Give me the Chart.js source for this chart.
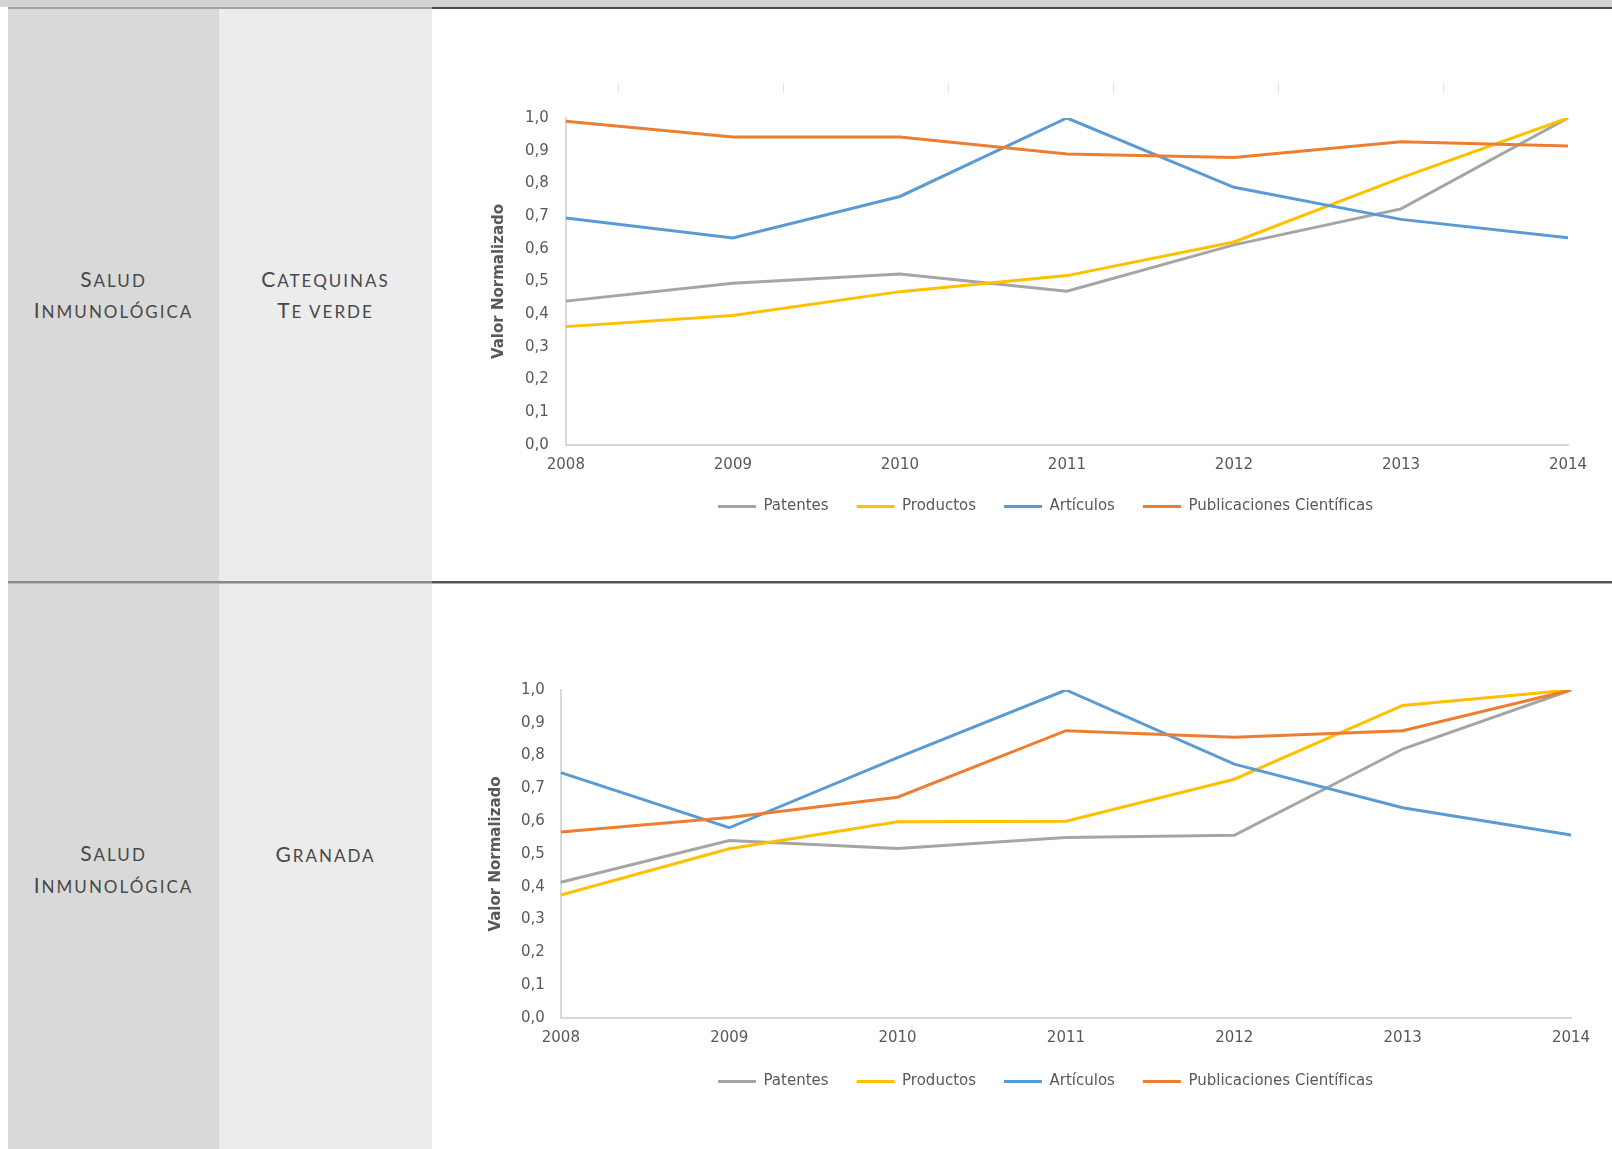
<!DOCTYPE html>
<html lang="es">
<head>
<meta charset="utf-8">
<title>Salud Inmunológica – Valor Normalizado</title>
<script src="https://cdn.jsdelivr.net/npm/chart.js@4/dist/chart.umd.min.js"></script>
<style>
  html, body { margin: 0; padding: 0; background: #fff; }
  body { width: 1612px; height: 1149px; position: relative; overflow: hidden; }
  .band { position: absolute; left: 0; top: 0; width: 1612px; height: 7px; background: #d3d3d1; }
  .rule { position: absolute; }
  .col1 { position: absolute; left: 8px; width: 211px; background: #d9d9d9; }
  .col2 { position: absolute; left: 219px; width: 213px; background: #ececec; }
  .cell {
    display: flex; flex-direction: column; justify-content: center; align-items: center;
    font-family: Lato, "Open Sans", sans-serif; font-size: 17px; letter-spacing: 2px;
    text-transform: uppercase; color: #484848; line-height: 29.5px; text-align: center;
  }
  .cap { font-size: 21px; }
  .chart { position: absolute; left: 432px; }
  .mark { position: absolute; top: 83px; width: 1px; height: 10px; background: #e4e4e4; }
</style>
</head>
<body>
  <div class="band"></div>
  <div class="rule" style="left:8px;top:7px;width:424px;height:2px;background:#a3a3a3"></div>
  <div class="rule" style="left:432px;top:7px;width:1180px;height:2px;background:#4a4a4a"></div>

  <!-- fila 1 -->
  <div class="col1 cell" style="top:9px;height:572px">
    <span><span class="cap">S</span>alud</span>
    <span><span class="cap">I</span>nmunológica</span>
  </div>
  <div class="col2 cell" style="top:9px;height:572px">
    <span><span class="cap">C</span>atequinas</span>
    <span><span class="cap">T</span>e verde</span>
  </div>

  <div class="rule" style="left:8px;top:581px;width:424px;height:2px;background:#8a8a8a"></div>
  <div class="rule" style="left:8px;top:583px;width:424px;height:1px;background:#b8b8b8"></div>
  <div class="rule" style="left:432px;top:581px;width:1180px;height:2px;background:#555"></div>
  <div class="rule" style="left:432px;top:583px;width:1180px;height:1px;background:#aaa"></div>

  <!-- fila 2 -->
  <div class="col1 cell" style="top:584px;height:571px">
    <span><span class="cap">S</span>alud</span>
    <span><span class="cap">I</span>nmunológica</span>
  </div>
  <div class="col2 cell" style="top:584px;height:571px">
    <span><span class="cap">G</span>ranada</span>
    <span>&nbsp;</span>
  </div>

  <div class="mark" style="left:618px"></div>
  <div class="mark" style="left:783px"></div>
  <div class="mark" style="left:948px"></div>
  <div class="mark" style="left:1113px"></div>
  <div class="mark" style="left:1278px"></div>
  <div class="mark" style="left:1443px"></div>

  <canvas id="chartTe" class="chart" style="top:9px" width="1180" height="572"></canvas>
  <canvas id="chartGranada" class="chart" style="top:583px" width="1180" height="566"></canvas>

<script>
// Años del periodo analizado
const years = ['2008', '2009', '2010', '2011', '2012', '2013', '2014'];

// Catequinas de té verde (valores normalizados)
const patentesTe      = [0.440, 0.495, 0.523, 0.470, 0.612, 0.722, 1.000];
const productosTe     = [0.362, 0.396, 0.469, 0.518, 0.621, 0.817, 1.000];
const articulosTe     = [0.694, 0.633, 0.760, 1.000, 0.788, 0.690, 0.634];
const publicacionesTe = [0.990, 0.942, 0.942, 0.890, 0.879, 0.927, 0.914];

// Granada (valores normalizados)
const patentesGr      = [0.414, 0.541, 0.517, 0.550, 0.557, 0.820, 1.000];
const productosGr     = [0.375, 0.516, 0.598, 0.600, 0.728, 0.953, 1.000];
const articulosGr     = [0.748, 0.580, 0.794, 1.000, 0.774, 0.641, 0.558];
const publicacionesGr = [0.567, 0.611, 0.673, 0.876, 0.856, 0.876, 1.000];

const seriesNames  = ['Patentes', 'Productos', 'Artículos', 'Publicaciones Científicas'];
const seriesColors = ['#a5a5a5', '#ffc000', '#5b9bd5', '#ed7d31'];

const TEXT = '#595959';
const AXIS = '#d9d9d9';
const FONT = 'DejaVu Sans';

function buildChart(id, values, g) {
  // later series are painted over earlier ones
  const datasets = values.map((data, i) => ({
    label: seriesNames[i],
    data,
    borderColor: seriesColors[i],
    backgroundColor: seriesColors[i],
    borderWidth: 3,
    pointRadius: 0,
    tension: 0,
    fill: false,
    order: values.length - i
  }));
  return new Chart(document.getElementById(id), {
    type: 'line',
    data: { labels: years, datasets },
    options: {
      responsive: false,
      animation: false,
      devicePixelRatio: 1,
      layout: { padding: g.padding },
      plugins: {
        tooltip: { enabled: false },
        legend: {
          position: 'bottom',
          labels: {
            usePointStyle: true,
            pointStyle: 'line',
            pointStyleWidth: 38,
            padding: 28,
            color: TEXT,
            font: { family: FONT, size: 15 },
            sort: (a, b) => a.datasetIndex - b.datasetIndex
          }
        }
      },
      scales: {
        x: {
          grid: { display: false, drawTicks: false },
          border: { color: AXIS, width: 2 },
          ticks: {
            padding: g.xPad, color: TEXT, maxRotation: 0, autoSkip: false,
            font: { family: FONT, size: 15 }
          },
          afterFit: s => { s.height -= g.xTrim; }
        },
        y: {
          min: 0, max: 1,
          grid: { display: false, drawTicks: false },
          border: { color: AXIS, width: 2 },
          ticks: {
            stepSize: 0.1, padding: g.yPad, color: TEXT,
            font: { family: FONT, size: 15 },
            callback: v => Number(v).toFixed(1).replace('.', ',')
          },
          title: {
            display: true, text: 'Valor Normalizado', color: TEXT,
            font: { family: FONT, size: 15, weight: 'bold' },
            // the axis title reaches into the left padding so the legend centres under the plot
            padding: { top: g.titleShift, bottom: 0 }
          }
        }
      }
    }
  });
}

buildChart('chartTe', [patentesTe, productosTe, articulosTe, publicacionesTe], {
  padding: { left: 91, right: 44, top: 109, bottom: 57 }, xPad: 11, yPad: 17, xTrim: 14, titleShift: -33
});

buildChart('chartGranada', [patentesGr, productosGr, articulosGr, publicacionesGr], {
  padding: { left: 88, right: 41, top: 107, bottom: 50 }, xPad: 11, yPad: 16, xTrim: 12, titleShift: -33
});
</script>
</body>
</html>
